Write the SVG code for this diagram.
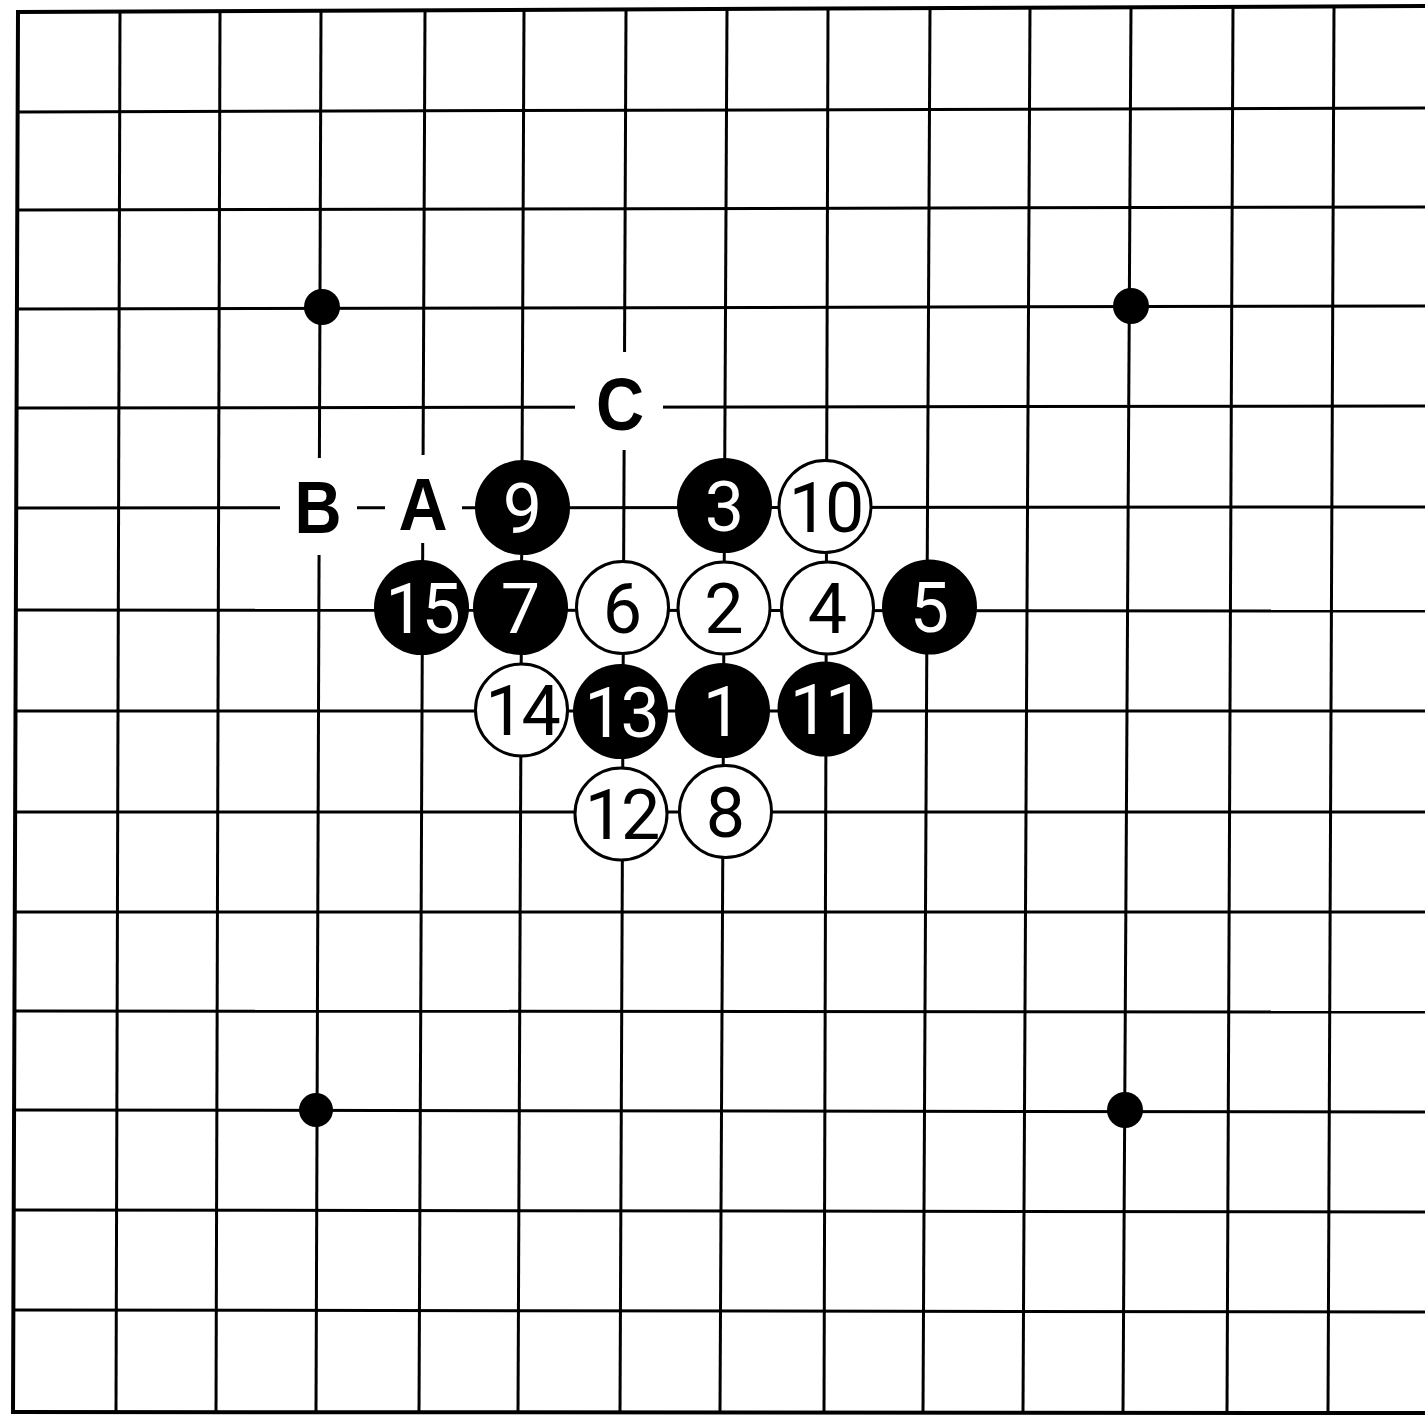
<svg xmlns="http://www.w3.org/2000/svg" width="1425" height="1417" viewBox="0 0 1425 1417">
<style>
  .g{stroke:#000;stroke-width:3;fill:none}
  .bd{stroke:#000;stroke-width:4;fill:none;stroke-linecap:square}
  .star{fill:#000}
  .bs{fill:#000}
  .ws{fill:#fff;stroke:#000;stroke-width:3}
  .n{font-family:Roboto,"Liberation Sans",Arial,sans-serif;font-size:70px;text-anchor:middle}
  .bn{fill:#fff}
  .wn{fill:#000}
  .lbl{font-family:"Liberation Sans",Arial,sans-serif;font-size:74px;font-weight:bold;text-anchor:middle;fill:#000}
  .gap{fill:#fff}
</style>
<rect width="1425" height="1417" fill="#fff"/>
<g id="grid">
  <g id="rows">
    <line class="bd" x1="18" y1="12" x2="1425" y2="6"/>
    <line class="g" x1="17.6" y1="112" x2="1425" y2="108"/>
    <line class="g" x1="17.3" y1="210" x2="1425" y2="207"/>
    <line class="g" x1="16.9" y1="309" x2="1425" y2="306"/>
    <line class="g" x1="16.6" y1="408" x2="1425" y2="406"/>
    <line class="g" x1="16.2" y1="508" x2="1425" y2="507"/>
    <line class="g" x1="15.9" y1="610" x2="1425" y2="611"/>
    <line class="g" x1="15.5" y1="711" x2="1425" y2="711"/>
    <line class="g" x1="15.1" y1="812" x2="1425" y2="812"/>
    <line class="g" x1="14.8" y1="912" x2="1425" y2="912"/>
    <line class="g" x1="14.4" y1="1011" x2="1425" y2="1012"/>
    <line class="g" x1="14.1" y1="1110" x2="1425" y2="1112"/>
    <line class="g" x1="13.7" y1="1210" x2="1425" y2="1212"/>
    <line class="g" x1="13.4" y1="1310" x2="1425" y2="1312"/>
    <line class="bd" x1="13" y1="1412" x2="1425" y2="1413"/>
  </g>
  <g id="cols">
    <line class="bd" x1="18" y1="12" x2="13" y2="1412"/>
    <line class="g" x1="120" y1="11.6" x2="116" y2="1412.5"/>
    <line class="g" x1="220" y1="11.1" x2="216" y2="1412.5"/>
    <line class="g" x1="321" y1="10.7" x2="316" y2="1412.5"/>
    <line class="g" x1="425" y1="10.3" x2="419" y2="1412.5"/>
    <line class="g" x1="524" y1="9.8" x2="518" y2="1412.5"/>
    <line class="g" x1="626" y1="9.4" x2="620" y2="1412.5"/>
    <line class="g" x1="727" y1="9" x2="720" y2="1412.5"/>
    <line class="g" x1="828" y1="8.5" x2="824" y2="1412.5"/>
    <line class="g" x1="930" y1="8" x2="923" y2="1412.5"/>
    <line class="g" x1="1030" y1="7.6" x2="1023" y2="1412.5"/>
    <line class="g" x1="1131" y1="7.2" x2="1123" y2="1412.5"/>
    <line class="g" x1="1233" y1="6.7" x2="1227" y2="1412.5"/>
    <line class="g" x1="1334" y1="6.3" x2="1328" y2="1412.5"/>
  </g>
</g>
<g id="star-points">
  <circle class="star" cx="322" cy="307" r="18"/>
  <circle class="star" cx="1131" cy="306" r="18"/>
  <circle class="star" cx="316" cy="1110" r="17"/>
  <circle class="star" cx="1125" cy="1110" r="18"/>
</g>
<g id="label-B">
  <rect class="gap" x="280" y="458" width="77" height="97"/>
  <text class="lbl" transform="translate(318,533) scale(0.88,1)">B</text>
</g>
<g id="label-A">
  <rect class="gap" x="385" y="455" width="77" height="88"/>
  <text class="lbl" transform="translate(423,530) scale(0.92,1)">A</text>
</g>
<g id="label-C">
  <rect class="gap" x="575" y="352" width="88" height="98"/>
  <text class="lbl" transform="translate(620,430) scale(0.9,1)">C</text>
</g>
<g id="stones">
  <g id="s1"><circle class="bs" cx="722.5" cy="710.5" r="47.5"/><text class="n bn" x="722.5" y="735.5">1</text></g>
  <g id="s2"><circle class="ws" cx="724" cy="608" r="46"/><text class="n wn" x="724" y="633">2</text></g>
  <g id="s3"><circle class="bs" cx="724.5" cy="505.5" r="47.5"/><text class="n bn" x="724.5" y="530.5">3</text></g>
  <g id="s4"><circle class="ws" cx="827.5" cy="608" r="46"/><text class="n wn" x="827.5" y="633">4</text></g>
  <g id="s5"><circle class="bs" cx="929.5" cy="607" r="47.5"/><text class="n bn" x="929.5" y="632">5</text></g>
  <g id="s6"><circle class="ws" cx="622.5" cy="607.5" r="46"/><text class="n wn" x="622.5" y="632.5">6</text></g>
  <g id="s7"><circle class="bs" cx="520.5" cy="607.5" r="47.5"/><text class="n bn" x="520.5" y="632.5">7</text></g>
  <g id="s8"><circle class="ws" cx="725.5" cy="811.5" r="46"/><text class="n wn" x="725.5" y="836.5">8</text></g>
  <g id="s9"><circle class="bs" cx="522.5" cy="507.5" r="47.5"/><text class="n bn" x="522.5" y="532.5">9</text></g>
  <g id="s10"><circle class="ws" cx="825" cy="506.5" r="46"/><text class="n wn" x="825" y="531.5" letter-spacing="-3">10</text></g>
  <g id="s11"><circle class="bs" cx="825" cy="709" r="47.5"/><text class="n bn" x="825" y="734" letter-spacing="-4">11</text></g>
  <g id="s12"><circle class="ws" cx="621" cy="814" r="46"/><text class="n wn" x="621" y="839" letter-spacing="-3">12</text></g>
  <g id="s13"><circle class="bs" cx="620.5" cy="711.5" r="47.5"/><text class="n bn" x="620.5" y="736.5" letter-spacing="-3">13</text></g>
  <g id="s14"><circle class="ws" cx="521.5" cy="710" r="46"/><text class="n wn" x="521.5" y="735" letter-spacing="-3">14</text></g>
  <g id="s15"><circle class="bs" cx="421.5" cy="607.5" r="47.5"/><text class="n bn" x="421.5" y="632.5" letter-spacing="-3">15</text></g>
</g>
</svg>
